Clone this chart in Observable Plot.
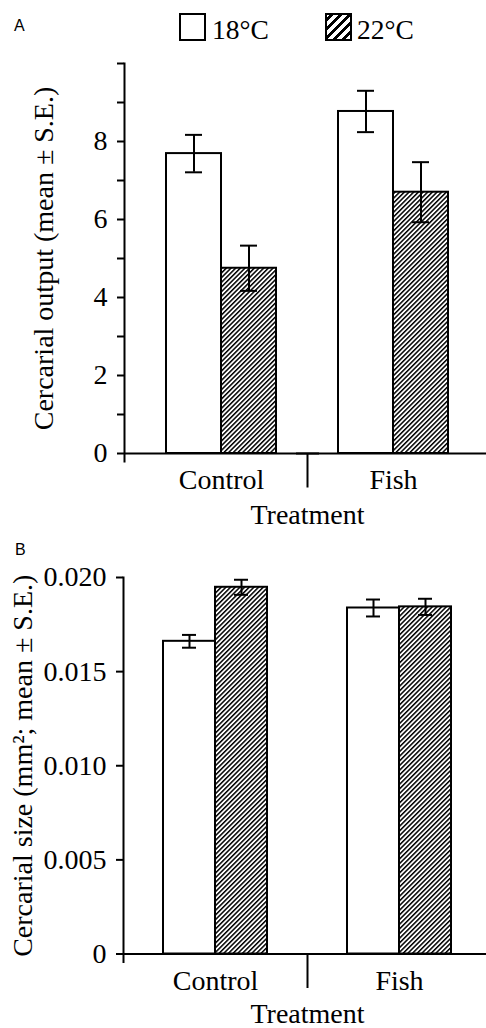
<!DOCTYPE html>
<html>
<head>
<meta charset="utf-8">
<script src="https://cdn.jsdelivr.net/npm/d3@7"></script>
<script src="https://cdn.jsdelivr.net/npm/@observablehq/plot@0.6"></script>
<style>
  html, body { margin: 0; padding: 0; background: #fff; }
  body { width: 486px; height: 1028px; overflow: hidden; }
  svg.chart { display: block; }
  svg.chart text { font-family: "Liberation Serif", "Times New Roman", serif; }
  .hdr { position: relative; height: 50px; }
  .bhdr { position: relative; height: 30px; }
  .panel { position: absolute; font-family: "Liberation Sans", Arial, sans-serif; font-size: 16px; line-height: 16px; }
  .sw { position: absolute; box-sizing: border-box; width: 27px; height: 28px; border: 2px solid #000; background: #fff; }
  .sw.h { background: repeating-linear-gradient(135deg, #fff 0 1.5px, #000 1.5px 4.3px, #fff 4.3px 6.4px); }
  .lt { position: absolute; font-family: "Liberation Serif", "Times New Roman", serif; font-size: 27.5px; line-height: 27px; color: #000; }
</style>
</head>
<body>
<svg width="0" height="0" style="position:absolute">
  <defs>
    <pattern id="hatch" patternUnits="userSpaceOnUse" width="3.3" height="3.3" patternTransform="rotate(45)">
      <rect x="0" y="0" width="3.3" height="3.3" fill="#fff"></rect>
      <rect x="0" y="0" width="1.5" height="3.3" fill="#000"></rect>
    </pattern>
  </defs>
</svg>
<div class="hdr">
  <div class="panel" style="left:14px;top:18px;">A</div>
  <div class="sw" style="left:179px;top:13px;"></div>
  <div class="lt" style="left:212px;top:16px;">18°C</div>
  <div class="sw h" style="left:325px;top:13px;"></div>
  <div class="lt" style="left:357px;top:16px;">22°C</div>
</div>
<div id="chartA"></div>
<div class="bhdr"><div class="panel" style="left:15px;top:12px;">B</div></div>
<div id="chartB"></div>
<script>
// ---- data ----
const treatments = ["Control", "Fish"];
const temperatures = ["18°C", "22°C"];
// Panel A: cercarial output
const outputMean18 = [7.69, 8.77];
const outputSE18 = [0.48, 0.53];
const outputMean22 = [4.75, 6.70];
const outputSE22 = [0.58, 0.77];
// Panel B: cercarial size (mm^2)
const sizeMean18 = [0.01661, 0.01838];
const sizeSE18 = [0.00034, 0.00045];
const sizeMean22 = [0.01948, 0.01844];
const sizeSE22 = [0.00040, 0.00043];
// tick values
const yTicksA = [0, 1, 2, 3, 4, 5, 6, 7, 8, 9, 10];
const yLabelsA = ["0", "", "2", "", "4", "", "6", "", "8", "", ""];
const yTicksB = [0, 0.005, 0.010, 0.015, 0.020];
const yLabelsB = ["0", "0.005", "0.010", "0.015", "0.020"];

const SERIF = '"Liberation Serif", "Times New Roman", serif';

function rows(m18, s18, m22, s22) {
  return treatments.flatMap((t, i) => [
    {treatment: t, temperature: temperatures[0], mean: m18[i], se: s18[i]},
    {treatment: t, temperature: temperatures[1], mean: m22[i], se: s22[i]}
  ]);
}

function panel({data, height, marginTop, marginBottom, fxRange, xPad, yDomain, yTicks, yLabels, yLabel, axisDx, labelOffsetY, labelOffsetFx, baseInsetLeft}) {
  const frameH = height - marginTop - marginBottom;
  const is18 = d => d.temperature === temperatures[0];
  return Plot.plot({
    width: 486,
    height,
    marginTop,
    marginBottom,
    marginLeft: fxRange[0],
    marginRight: 486 - fxRange[1],
    fx: {domain: treatments, range: fxRange, padding: 0},
    x: {domain: temperatures, paddingInner: 0, paddingOuter: xPad, axis: null},
    y: {domain: yDomain, axis: null},
    style: {fontFamily: SERIF, fontSize: "28px", color: "#000", background: "transparent", overflow: "visible"},
    className: "chart",
    marks: [
      Plot.barY(data.filter(is18), {fx: "treatment", x: "temperature", y: "mean", fill: "white", stroke: "black", strokeWidth: 2}),
      Plot.barY(data.filter(d => !is18(d)), {fx: "treatment", x: "temperature", y: "mean", fill: "url(#hatch)", stroke: "black", strokeWidth: 2}),
      Plot.ruleX(data, {fx: "treatment", x: "temperature", y1: d => d.mean - d.se, y2: d => d.mean + d.se, stroke: "black", strokeWidth: 2}),
      Plot.tickY(data, {fx: "treatment", x: "temperature", y: d => d.mean + d.se, stroke: "black", strokeWidth: 2, inset: 19}),
      Plot.tickY(data, {fx: "treatment", x: "temperature", y: d => d.mean - d.se, stroke: "black", strokeWidth: 2, inset: 19}),
      Plot.ruleY([0], {insetLeft: baseInsetLeft, insetRight: -12, stroke: "black", strokeWidth: 2}),
      Plot.frame({anchor: "left", facetAnchor: "left", insetLeft: baseInsetLeft, insetBottom: -8, stroke: "black", strokeWidth: 2}),
      Plot.frame({anchor: "right", facetAnchor: "left", insetTop: frameH + 1, insetBottom: -33, stroke: "black", strokeWidth: 2}),
      Plot.axisY({
        ticks: yTicks,
        tickFormat: (d) => yLabels[yTicks.indexOf(d)],
        tickSize: 7, tickPadding: 10, strokeWidth: 2, dx: axisDx,
        fontFamily: SERIF, fontVariant: "normal", fontSize: 28,
        label: yLabel, labelAnchor: "center", labelOffset: labelOffsetY, labelArrow: "none"
      }),
      Plot.axisFx({
        anchor: "bottom", tickSize: 0, tickPadding: 16,
        fontFamily: SERIF, fontSize: 28,
        label: "Treatment", labelAnchor: "center", labelOffset: labelOffsetFx, labelArrow: "none"
      })
    ]
  });
}

const chartA = panel({
  data: rows(outputMean18, outputSE18, outputMean22, outputSE22),
  height: 480, marginTop: 13, marginBottom: 77,
  fxRange: [135, 479], xPad: 0.536,
  yDomain: [0, 10], yTicks: yTicksA, yLabels: yLabelsA,
  yLabel: "Cercarial output (mean ± S.E.)",
  axisDx: -11, labelOffsetY: 102, labelOffsetFx: 70, baseInsetLeft: -11
});
document.getElementById("chartA").appendChild(chartA);

const chartB = panel({
  data: rows(sizeMean18, sizeSE18, sizeMean22, sizeSE22),
  height: 468, marginTop: 17, marginBottom: 74.5,
  fxRange: [123, 491], xPad: 0.769,
  yDomain: [0, 0.02], yTicks: yTicksB, yLabels: yLabelsB,
  yLabel: "Cercarial size (mm²; mean ± S.E.)",
  axisDx: 0, labelOffsetY: 111, labelOffsetFx: 69, baseInsetLeft: 0
});
document.getElementById("chartB").appendChild(chartB);
</script>
</body>
</html>
